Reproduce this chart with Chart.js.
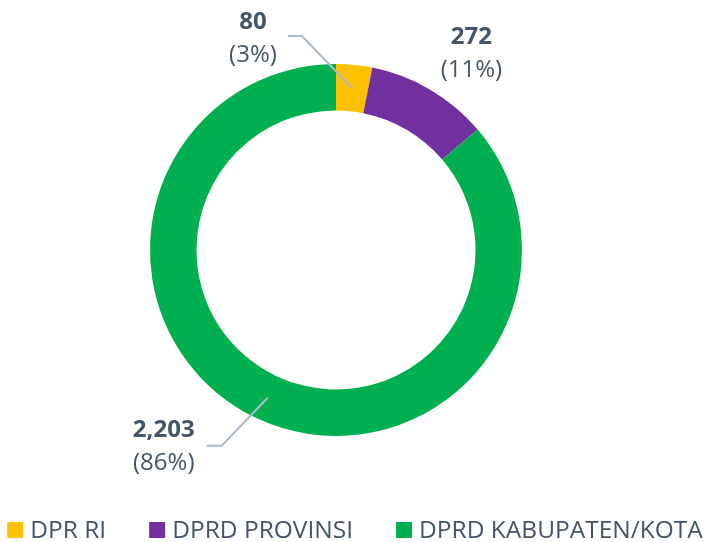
<!DOCTYPE html>
<html>
<head>
<meta charset="utf-8">
<script src="https://cdn.jsdelivr.net/npm/chart.js@4.4.1/dist/chart.umd.min.js"></script>
<style>
  html, body { margin: 0; padding: 0; background: #fff; }
  #wrap { width: 704px; height: 542px; }
</style>
</head>
<body>
<div id="wrap"><canvas id="chart"></canvas></div>
<script>
const categories = ['DPR RI', 'DPRD PROVINSI', 'DPRD KABUPATEN/KOTA'];
const seats = [80, 272, 2203];
const colors = ['#FFC000', '#7030A0', '#00B050'];

const textColor = '#44546A';
const lineColor = '#ADB9CA';
const fontFamily = "'Open Sans', sans-serif";

// label offsets measured from the middle of each slice
const labelPlacement = [
  { elbow: [-50, -52], tail: -14, text: [-99, -50] },
  { elbow: null, text: [53, -57] },
  { elbow: [-46, 48], tail: -15, text: [-104, 48] }
];

const total = seats.reduce((a, b) => a + b, 0);

const sliceLabels = {
  id: 'sliceLabels',
  afterDatasetsDraw(chart) {
    const ctx = chart.ctx;
    const arcs = chart.getDatasetMeta(0).data;
    ctx.save();
    arcs.forEach((arc, i) => {
      const p = arc.tooltipPosition();
      const pl = labelPlacement[i];
      if (pl.elbow) {
        const ex = p.x + pl.elbow[0], ey = p.y + pl.elbow[1];
        ctx.beginPath();
        ctx.moveTo(p.x, p.y);
        ctx.lineTo(ex, ey);
        ctx.lineTo(ex + pl.tail, ey);
        ctx.strokeStyle = lineColor;
        ctx.lineWidth = 2;
        ctx.stroke();
      }
      const tx = p.x + pl.text[0], ty = p.y + pl.text[1];
      ctx.fillStyle = textColor;
      ctx.textAlign = 'center';
      ctx.textBaseline = 'middle';
      ctx.font = 'bold 24px ' + fontFamily;
      ctx.fillText(seats[i].toLocaleString('en-US'), tx, ty - 16);
      ctx.font = '24px ' + fontFamily;
      ctx.fillText('(' + Math.round(seats[i] / total * 100) + '%)', tx, ty + 17);
    });
    ctx.restore();
  }
};

const bottomLegend = {
  id: 'bottomLegend',
  afterDraw(chart) {
    const ctx = chart.ctx;
    const box = 16, gapText = 7, gapItem = 43, y = 530;
    ctx.save();
    ctx.font = '24.5px ' + fontFamily;
    const widths = categories.map(c => ctx.measureText(c).width);
    const full = widths.reduce((s, w) => s + box + gapText + w, 0) + gapItem * (categories.length - 1);
    let x = chart.width / 2 - full / 2 + 3;
    categories.forEach((c, i) => {
      ctx.fillStyle = colors[i];
      ctx.fillRect(x, y - box / 2, box, box);
      ctx.fillStyle = textColor;
      ctx.textAlign = 'left';
      ctx.textBaseline = 'middle';
      ctx.fillText(c, x + box + gapText, y + 1);
      x += box + gapText + widths[i] + gapItem;
    });
    ctx.restore();
  }
};

new Chart(document.getElementById('chart'), {
  type: 'doughnut',
  data: {
    labels: categories,
    datasets: [{
      data: seats,
      backgroundColor: colors,
      borderWidth: 0
    }]
  },
  options: {
    responsive: true,
    maintainAspectRatio: false,
    animation: false,
    cutout: '75%',
    layout: { padding: { top: 64, bottom: 106, left: 0, right: 32 } },
    plugins: {
      legend: { display: false },
      tooltip: { enabled: false }
    }
  },
  plugins: [sliceLabels, bottomLegend]
});
</script>
</body>
</html>
